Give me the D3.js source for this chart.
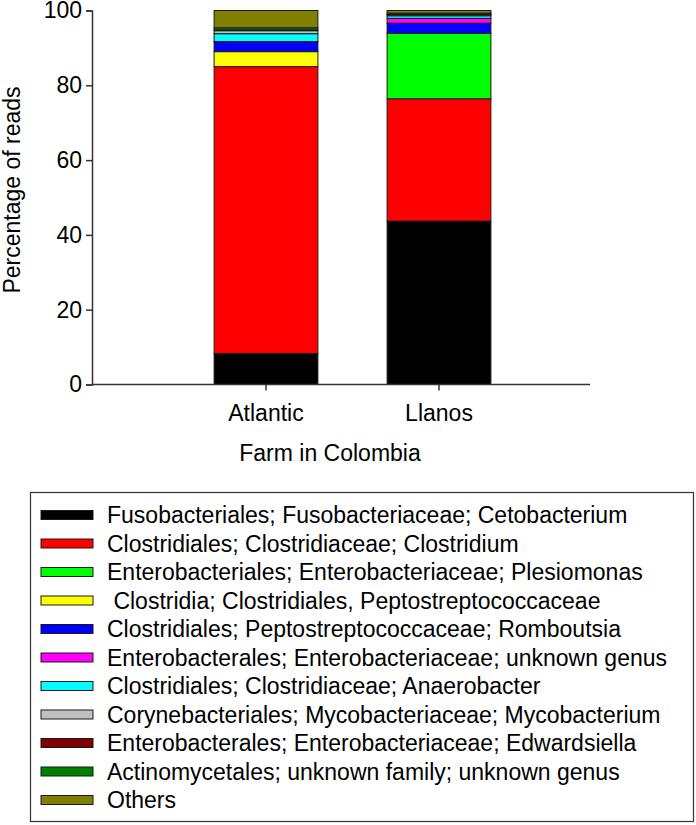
<!DOCTYPE html>
<html><head><meta charset="utf-8">
<script src="https://cdn.jsdelivr.net/npm/d3@7"></script>
<style>
body{margin:0;background:#fff;}
text{font-family:"Liberation Sans",Arial,sans-serif;fill:#000;white-space:pre;}
</style></head>
<body><svg id="c" width="696" height="825"></svg>
<script>
const farms = ["Atlantic", "Llanos"];
const taxa = [
  "Fusobacteriales; Fusobacteriaceae; Cetobacterium",
  "Clostridiales; Clostridiaceae; Clostridium",
  "Enterobacteriales; Enterobacteriaceae; Plesiomonas",
  " Clostridia; Clostridiales, Peptostreptococcaceae",
  "Clostridiales; Peptostreptococcaceae; Romboutsia",
  "Enterobacterales; Enterobacteriaceae; unknown genus",
  "Clostridiales; Clostridiaceae; Anaerobacter",
  "Corynebacteriales; Mycobacteriaceae; Mycobacterium",
  "Enterobacterales; Enterobacteriaceae; Edwardsiella",
  "Actinomycetales; unknown family; unknown genus",
  "Others"
];
const colors = ["#000000","#ff0000","#00ff00","#ffff00","#0000ff","#ff00ff","#00ffff","#c0c0c0","#800000","#008000","#808000"];
const atlantic = [8.3, 76.7, 0, 4.0, 2.6, 0.1, 2.1, 0.8, 0.2, 0.6, 4.6];
const llanos   = [43.7, 32.7, 17.5, 0, 2.7, 1.3, 0.7, 0.3, 0.2, 0.2, 0.7];
const yTicks = [0, 20, 40, 60, 80, 100];

const svg = d3.select("#c");
const fs = 23;
const y = d3.scaleLinear().domain([0, 100]).range([384.5, 10.5]);
const x = d3.scaleBand().domain(farms).range([179.5, 525.5]).paddingInner(0.4).paddingOuter(0.2);

const rows = farms.map((f, i) => {
  const vals = i === 0 ? atlantic : llanos;
  const obj = {farm: f};
  taxa.forEach((t, k) => obj[t] = vals[k]);
  return obj;
});
const stack = d3.stack().keys(taxa)(rows);

const g = svg.append("g");
stack.forEach((layer, k) => {
  g.selectAll(null).data(layer.filter(d => d[1] - d[0] > 0)).enter().append("rect")
    .attr("x", d => x(d.data.farm))
    .attr("width", x.bandwidth())
    .attr("y", d => y(d[1]))
    .attr("height", d => y(d[0]) - y(d[1]))
    .attr("fill", colors[k])
    .attr("stroke", "#1a1a1a").attr("stroke-width", 1);
});

// Y axis
const yAx = svg.append("g").attr("transform", "translate(92,0)")
  .call(d3.axisLeft(y).tickValues(yTicks).tickSize(6).tickPadding(4).tickFormat(d3.format("d")));
yAx.select(".domain").attr("stroke", "#333").attr("stroke-width", 1.5);
yAx.selectAll(".tick line").attr("stroke", "#333").attr("stroke-width", 1.5);
yAx.selectAll("text").attr("font-size", fs).attr("font-family", "Liberation Sans, Arial, sans-serif").attr("fill", "#000");

// X axis
const xAx = svg.append("g").attr("transform", "translate(0,384.5)")
  .call(d3.axisBottom(x).tickSize(6).tickPadding(14).tickSizeOuter(0));
xAx.select(".domain").remove();
xAx.append("line").attr("x1", 92).attr("x2", 590).attr("stroke", "#333").attr("stroke-width", 1.5);
xAx.selectAll(".tick line").attr("stroke", "#333").attr("stroke-width", 1.5);
xAx.selectAll("text").attr("font-size", fs).attr("font-family", "Liberation Sans, Arial, sans-serif").attr("fill", "#000");

svg.append("text").attr("x", 330).attr("y", 461).attr("text-anchor", "middle")
  .attr("font-size", fs).text("Farm in Colombia");
svg.append("text").attr("transform", "translate(20,190) rotate(-90)").attr("text-anchor", "middle")
  .attr("font-size", fs).text("Percentage of reads");

// Legend
svg.append("rect").attr("x", 30.5).attr("y", 492.5).attr("width", 663).attr("height", 329)
  .attr("fill", "none").attr("stroke", "#333").attr("stroke-width", 1.2);
const lg = svg.append("g");
taxa.forEach((t, k) => {
  const cy = 515 + k * 28.5;
  lg.append("rect").attr("x", 41).attr("y", cy - 4.5).attr("width", 52).attr("height", 9)
    .attr("fill", colors[k]).attr("stroke", "#1a1a1a").attr("stroke-width", 1);
  lg.append("text").attr("x", 107).attr("y", cy + 8).attr("font-size", fs).text(t);
});
</script></body></html>
